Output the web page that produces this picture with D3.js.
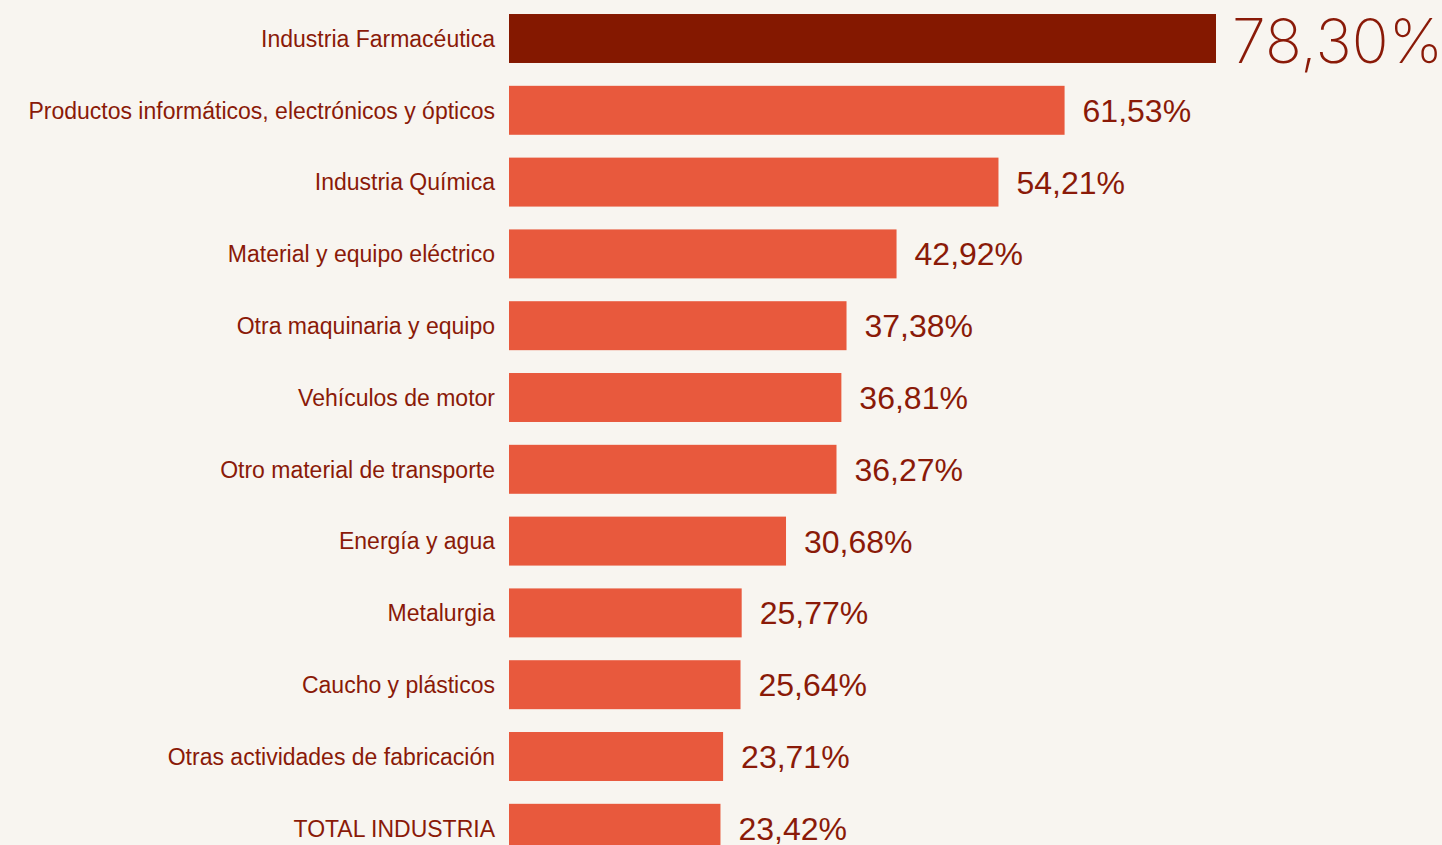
<!DOCTYPE html>
<html>
<head>
<meta charset="utf-8">
<script src="https://cdn.jsdelivr.net/npm/d3@7"></script>
<style>
  html, body { margin: 0; padding: 0; background: #f8f5f0; }
  svg { display: block; }
</style>
</head>
<body>
<svg id="chart" width="1442" height="845"></svg>
<script>
// Sectors and their share (%)
const sectors = [
  "Industria Farmacéutica",
  "Productos informáticos, electrónicos y ópticos",
  "Industria Química",
  "Material y equipo eléctrico",
  "Otra maquinaria y equipo",
  "Vehículos de motor",
  "Otro material de transporte",
  "Energía y agua",
  "Metalurgia",
  "Caucho y plásticos",
  "Otras actividades de fabricación",
  "TOTAL INDUSTRIA"
];
const shares = [78.30, 61.53, 54.21, 42.92, 37.38, 36.81, 36.27, 30.68, 25.77, 25.64, 23.71, 23.42];

const rows = sectors.map((s, i) => ({ sector: s, value: shares[i], top: i === 0 }));

const svg = d3.select("#chart");
const fmt = v => d3.format(".2f")(v).replace(".", ",") + "%";

const x = d3.scaleLinear().domain([0, 78.30]).range([509, 1216]);
const y = d3.scaleBand()
  .domain(sectors)
  .range([2.6, 2.6 + 12 * 71.8])
  .paddingInner(0.318)
  .paddingOuter(0.159);

const textColor = "#8a1a08";

svg.append("g").selectAll("rect")
  .data(rows)
  .join("rect")
  .attr("x", x(0))
  .attr("y", d => y(d.sector))
  .attr("width", d => x(d.value) - x(0))
  .attr("height", y.bandwidth())
  .attr("fill", d => d.top ? "#841800" : "#e8593d");

svg.append("g").selectAll("text")
  .data(rows)
  .join("text")
  .attr("x", 495)
  .attr("y", d => y(d.sector) + y.bandwidth() / 2)
  .attr("dy", "0.36em")
  .attr("text-anchor", "end")
  .attr("font-family", "Liberation Sans, Arial, sans-serif")
  .attr("font-size", 23)
  .attr("fill", textColor)
  .text(d => d.sector);

svg.append("g").selectAll("text")
  .data(rows)
  .join("text")
  .attr("x", d => x(d.value) + (d.top ? 16 : 18))
  .attr("y", d => d.top ? y(d.sector) + y.bandwidth() : y(d.sector) + y.bandwidth() / 2)
  .attr("dy", d => d.top ? "0" : "0.36em")
  .attr("font-family", d => d.top ? "Inter, Lato, sans-serif" : "Liberation Sans, Arial, sans-serif")
  .attr("font-weight", d => d.top ? 200 : 400)
  .attr("font-size", d => d.top ? 61 : 32)
  .attr("fill", textColor)
  .text(d => fmt(d.value));
</script>
</body>
</html>
